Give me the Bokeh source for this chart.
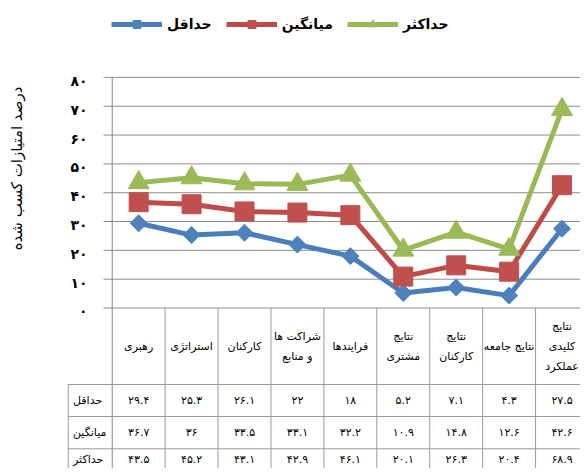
import math
from bokeh.plotting import figure
from bokeh.models import Range1d, Legend, LegendItem
from bokeh.core.properties import value
from bokeh.embed import file_html
from bokeh.resources import INLINE

# ---------------- data ----------------
categories = ["رهبری", "استراتژی", "کارکنان", "شراکت ها\nو منابع", "فرایندها",
              "نتایج\nمشتری", "نتایج\nکارکنان", "نتایج جامعه", "نتایج\nکلیدی\nعملکرد"]
series_names = ["حداقل", "میانگین", "حداکثر"]
min_values = [29.4, 25.3, 26.1, 22, 18, 5.2, 7.1, 4.3, 27.5]
avg_values = [36.7, 36, 33.5, 33.1, 32.2, 10.9, 14.8, 12.6, 42.6]
max_values = [43.5, 45.2, 43.1, 42.9, 46.1, 20.1, 26.3, 20.4, 68.9]
y_ticks = [0, 10, 20, 30, 40, 50, 60, 70, 80]
y_title = "درصد امتیازات کسب شده"

FA = str.maketrans("0123456789", "۰۱۲۳۴۵۶۷۸۹")
def fa(v):
    return f"{v:g}".translate(FA)

# ---------------- layout ----------------
W, H = 580, 468
X0, X1 = -2.111, 8.849
Y_BOT, Y_TOP = -55.68, 106.68
ROW_LINES = [-26.54, -37.64, -48.85]
ROW_CENTERS = [-32.1, -43.2, -52.4]
HEADER_Y = -13.3
LABEL_COL_X = -0.831
FONT = "DejaVu Sans"
GRID = "#8C8C8C"
TABLE_LINE = "#9A9A9A"

p = figure(width=W, height=H, output_backend="svg", toolbar_location=None,
           x_range=Range1d(X0, X1), y_range=Range1d(Y_BOT, Y_TOP),
           x_axis_location=None, y_axis_location=None, min_border=0,
           outline_line_color=None)
p.grid.visible = False

nb = len(categories)
xs = [i + 0.5 for i in range(nb)]

# gridlines + tick stubs
p.segment(x0=[-0.164] * len(y_ticks), y0=y_ticks, x1=[nb] * len(y_ticks), y1=y_ticks,
          line_color=GRID, line_width=1)
# axis line
p.segment(x0=[0], y0=[y_ticks[-1]], x1=[0], y1=[Y_BOT - 2], line_color="#868686", line_width=1)
# table vertical lines
p.segment(x0=list(range(1, nb + 1)), y0=[0] * nb, x1=list(range(1, nb + 1)), y1=[Y_BOT - 2] * nb,
          line_color=TABLE_LINE, line_width=1)
p.segment(x0=[LABEL_COL_X], y0=[ROW_LINES[0]], x1=[LABEL_COL_X], y1=[Y_BOT - 2],
          line_color=TABLE_LINE, line_width=1)
# table horizontal lines
p.segment(x0=[LABEL_COL_X] * 3, y0=ROW_LINES, x1=[nb] * 3, y1=ROW_LINES,
          line_color=TABLE_LINE, line_width=1)

# y tick labels
p.text(x=[-0.467] * len(y_ticks), y=[t - 1.2 for t in y_ticks], text=[fa(t) for t in y_ticks],
       text_font=value(FONT), text_font_size="14px", text_font_style="bold",
       text_align="right", text_baseline="middle", text_color="#000000")
# y title
p.text(x=[-1.808], y=[48.4], text=[y_title], angle=math.pi / 2,
       text_font=value(FONT), text_font_size="15px",
       text_align="center", text_baseline="middle", text_color="#000000")

# series
styles = [
    ("#4A7EBB", "#4F81BD", "square", math.pi / 4, 12),
    ("#BE4B48", "#C0504D", "square", 0, 19),
    ("#98B954", "#9BBB59", "triangle", 0, 21),
]
all_vals = [min_values, avg_values, max_values]
items = []
for name, vals, (lc, fc, mk, ang, sz) in zip(series_names, all_vals, styles):
    r1 = p.line(xs, vals, line_color=lc, line_width=5)
    r2 = p.scatter(xs, vals, marker=mk, angle=ang, size=sz, fill_color=fc, line_color=fc)
    items.append(LegendItem(label=name, renderers=[r1, r2]))

# table header
p.text(x=xs, y=[HEADER_Y] * nb, text=categories,
       text_font=value(FONT), text_font_size="11px", text_line_height=1.55,
       text_align="center", text_baseline="middle", text_color="#000000")
# table rows
for yc, name, vals in zip(ROW_CENTERS, series_names, all_vals):
    p.text(x=[-0.741], y=[yc], text=[name], text_font=value(FONT), text_font_size="11px",
           text_align="left", text_baseline="middle", text_color="#000000")
    p.text(x=xs, y=[yc] * nb, text=[fa(v) for v in vals], text_font=value(FONT),
           text_font_size="11px", text_align="center", text_baseline="middle",
           text_color="#000000")

legend = Legend(items=items, orientation="horizontal", location=(111, 434),
                glyph_width=51, glyph_height=20, label_standoff=5, spacing=14,
                padding=0, margin=0, border_line_color=None, background_fill_alpha=0,
                label_text_font=FONT, label_text_font_size="14px",
                label_text_font_style="bold", label_text_color="#000000")
p.add_layout(legend, "center")

open("out.html", "w").write(file_html(p, INLINE))
